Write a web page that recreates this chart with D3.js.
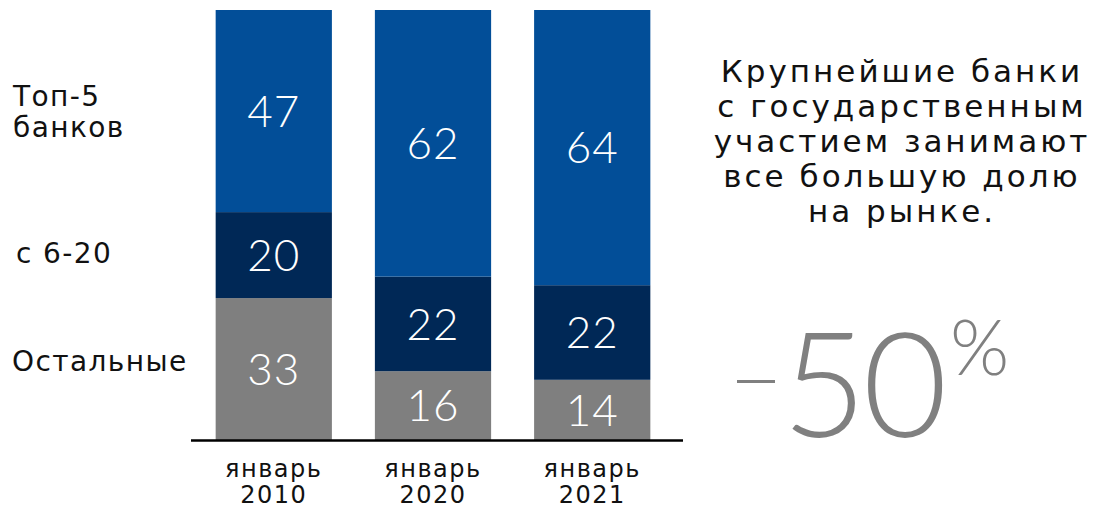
<!DOCTYPE html>
<html><head><meta charset="utf-8">
<script src="https://cdn.jsdelivr.net/npm/d3@7"></script>
<style>body{margin:0;background:#fff}svg{display:block}</style>
</head><body><svg id="c" width="1099" height="510"></svg>
<script>
const categories = ["январь 2010", "январь 2020", "январь 2021"];
const seriesNames = ["Остальные", "с 6-20", "Топ-5 банков"];
const others = [33, 16, 14];
const mid = [20, 22, 22];
const top5 = [47, 62, 64];
const colors = ["#7f7f7f", "#002856", "#024e98"];
const headline = ["Крупнейшие банки", "с государственным", "участием занимают", "все большую долю", "на рынке."];

const rows = categories.map((c, i) => ({cat: c, s0: others[i], s1: mid[i], s2: top5[i]}));
const stack = d3.stack().keys(["s0", "s1", "s2"])(rows);

const svg = d3.select("#c");
const font = "'DejaVu Sans', sans-serif";
const x = d3.scaleBand().domain(categories).range([187, 679]).paddingInner(0.27).paddingOuter(0.18);
const y = d3.scaleLinear().domain([0, 100]).range([440, 10]);

const g = svg.append("g");
stack.forEach((layer, k) => {
  g.selectAll(null).data(layer).enter().append("rect")
    .attr("x", d => x(d.data.cat)).attr("width", x.bandwidth())
    .attr("y", d => y(d[1])).attr("height", d => y(d[0]) - y(d[1]))
    .attr("fill", colors[k]);
  g.selectAll(null).data(layer).enter().append("text")
    .attr("x", d => x(d.data.cat) + x.bandwidth() / 2)
    .attr("y", d => (y(d[0]) + y(d[1])) / 2)
    .attr("dy", "0.36em").attr("text-anchor", "middle")
    .attr("fill", "#fff").style("font-family", "Lato, sans-serif").style("font-weight", 300)
    .style("font-size", "44px").style("letter-spacing", "1px").text(d => d[1] - d[0]);
});

// baseline axis
const ax = svg.append("g").attr("transform", "translate(0,440)")
  .call(d3.axisBottom(x).tickSize(0).tickFormat(""));
ax.select(".domain").attr("d", "M191,0.5H683").attr("stroke", "#000").attr("stroke-width", 2.5);
categories.forEach(c => {
  const parts = c.split(" ");
  const cx = x(c) + x.bandwidth() / 2;
  const t = svg.append("text").attr("text-anchor", "middle")
    .style("font-family", font).style("font-size", "24px").style("letter-spacing", "1.5px").attr("fill", "#111");
  t.append("tspan").attr("x", cx).attr("y", 477).text(parts[0]);
  t.append("tspan").attr("x", cx).attr("y", 503).text(parts[1]);
});

// series labels on left
const lab = svg.append("g").style("font-family", font).style("font-size", "28px")
  .style("letter-spacing", "1.4px").attr("fill", "#111");
lab.append("text").attr("x", 13).attr("y", 106).text("Топ-5");
lab.append("text").attr("x", 13).attr("y", 137).text("банков");
lab.append("text").attr("x", 16).attr("y", 263).text(seriesNames[1]);
lab.append("text").attr("x", 12).attr("y", 371).text(seriesNames[0]);

// headline
const h = svg.append("text").attr("text-anchor", "middle").style("font-family", font)
  .style("font-size", "31px").style("letter-spacing", "3px").attr("fill", "#111");
headline.forEach((l, i) => h.append("tspan").attr("x", 902).attr("y", 82 + i * 35).text(l));

// -50%
const pct = svg.append("g").attr("fill", "#808080").style("font-family", "Lato, sans-serif").style("font-weight", 300);
pct.append("rect").attr("x", 737).attr("y", 380).attr("width", 38).attr("height", 3);
pct.append("text").attr("x", 782).attr("y", 437).style("font-size", "146px").style("letter-spacing", "-4px").text("50");
pct.append("text").attr("x", 950).attr("y", 375).style("font-size", "76px").text("%");
</script></body></html>
